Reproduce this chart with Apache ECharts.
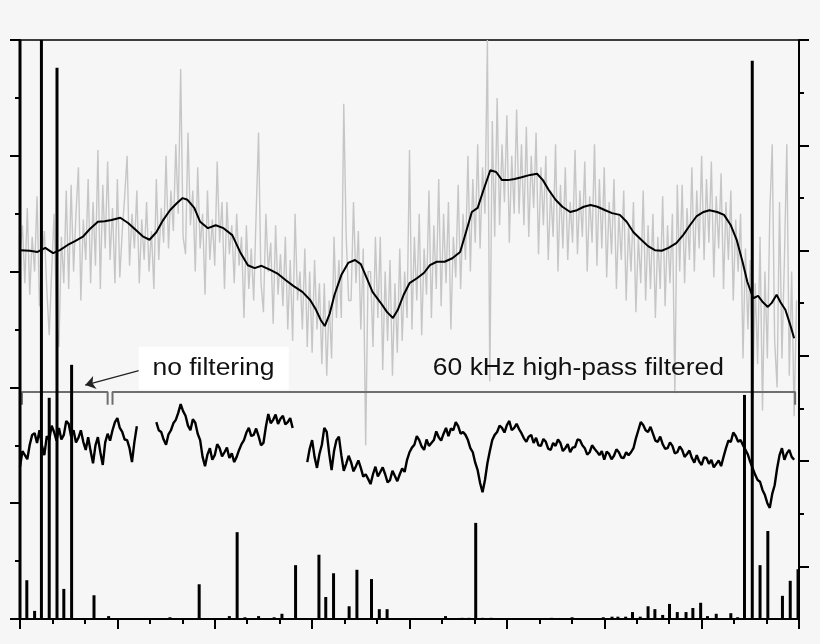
<!DOCTYPE html>
<html><head><meta charset="utf-8">
<script src="https://cdn.jsdelivr.net/npm/echarts@6/dist/echarts.min.js"></script>
<style>html,body{margin:0;padding:0;background:#f6f6f6}#c{width:820px;height:644px}</style>
</head><body><div id="c"></div>
<script>
// ---- data (arbitrary units: x 0..80, left y 0..100) ----
const grayStep = 0.25;
const grayTrace = [
63,68,58,71, 56,66,60,73, 54,62,67,57, 49,60,70,52, 47,66,58,74,
57,75,60,70, 78,55,69,62, 76,58,72,61, 81,57,75,64, 79,62,71,58,
76,59,67,73, 80,61,70,64, 74,58,69,62, 72,60,67,57, 76,62,71,65,
80,64,74,67, 82,70,95,66, 63,84,68,74, 60,78,64,70, 56,74,62,69,
61,79,65,72, 57,72,63,68, 58,70,61,66, 52,68,57,64, 55,70,84,58,
53,70,60,65, 51,68,56,63, 54,66,50,62, 48,70,55,60, 50,64,47,60,
46,62,50,58, 44,58,42,55, 45,66,52,62, 52,89,66,55, 55,72,58,67,
50,64,30,60, 60,47,66,52, 66,43,60,48, 62,42,58,46, 64,48,60,52,
81,50,66,55, 70,49,64,56, 74,52,68,57, 76,54,70,58, 72,50,66,59,
75,57,70,62, 80,60,76,65, 82,64,78,70, 100,41,86,66, 90,68,82,72,
87,65,80,70, 88,70,82,68, 85,66,80,71, 84,63,78,68, 80,62,74,66,
82,60,75,64, 78,62,72,65, 81,63,74,66, 79,60,73,65, 82,61,76,64,
78,59,72,63, 76,57,70,62, 74,55,68,60, 72,53,66,58, 74,55,68,57,
70,52,66,57, 73,54,68,58, 70,39,75,60, 75,58,71,62, 78,60,74,64,
80,62,76,65, 79,59,73,64, 77,57,72,62, 74,55,69,60, 70,45,64,50,
62,38,58,44, 66,36,60,45, 70,82,48,40, 72,45,62,82, 42,60,35,55];

const smoothTrace = [
[0,63.7],[1.0,63.6],[1.8,63.4],[2.6,64.1],[3.4,63.2],[4.1,63.7],[4.9,64.6],[5.7,65.3],[6.5,66.1],[7.2,67.4],
[8.0,68.6],[8.7,68.7],[9.4,68.9],[10.3,69.3],[11.1,68.4],[11.9,67.2],[12.6,66.1],[13.3,65.5],[14.0,66.8],[14.7,68.9],
[15.4,70.6],[16.1,71.8],[16.7,72.7],[17.2,72.4],[17.9,71.0],[18.5,68.6],[19.3,67.5],[20.1,68.0],[20.9,67.5],[21.8,66.3],
[22.6,63.4],[23.4,61.1],[24.1,60.6],[24.8,61.0],[25.7,60.3],[26.5,59.6],[27.3,58.5],[28.1,57.5],[29.0,56.5],[29.8,55.1],
[30.4,53.4],[30.9,51.6],[31.3,50.6],[31.8,52.7],[32.3,56.0],[33.0,59.4],[33.7,61.5],[34.4,62.0],[35.0,61.3],[35.6,58.9],
[36.2,56.5],[37.0,54.7],[37.7,53.0],[38.3,52.0],[38.8,53.4],[39.4,56.0],[40.0,58.0],[40.8,58.9],[41.5,59.8],[42.1,61.1],
[42.8,61.7],[43.6,61.7],[44.4,62.3],[45.2,63.4],[45.8,66.8],[46.4,70.3],[47.0,71.0],[47.6,74.1],[48.3,77.5],[48.9,77.2],
[49.5,75.8],[50.1,75.8],[50.8,76.0],[51.5,76.3],[52.4,76.7],[53.1,76.9],[53.7,75.8],[54.3,74.1],[55.0,72.4],[55.7,71.2],
[56.5,70.3],[57.2,70.6],[57.9,71.2],[58.6,71.5],[59.3,71.2],[60.1,70.6],[60.8,70.1],[61.6,69.8],[62.3,68.6],[63.0,66.8],
[63.8,65.5],[64.5,64.4],[65.2,63.7],[65.9,63.6],[66.6,64.1],[67.4,64.9],[68.1,66.3],[68.8,68.0],[69.5,69.6],[70.2,70.3],
[70.8,70.6],[71.6,70.3],[72.3,69.8],[73.0,68.0],[73.6,65.5],[74.2,61.7],[74.7,58.2],[75.3,55.4],[75.8,55.8],[76.3,54.7],
[76.8,53.9],[77.2,54.6],[77.7,56.0],[78.1,54.7],[78.6,53.4],[79.1,50.8],[79.5,48.5]];

const filteredStep = 0.25;
const filteredTrace = [
26.3,29.0,28.3,27.6,30.1,31.8,32.1,30.4,32.6,30.0,28.3,31.6,30.9,33.4,32.3,30.8,33.0,31.0,31.8,34.2,
33.7,31.5,32.6,30.5,31.3,32.6,30.6,29.2,31.4,29.0,26.9,30.0,31.4,28.8,26.6,30.5,32.0,30.8,32.6,34.0,
34.7,33.0,32.3,31.0,30.9,29.5,27.1,30.6,33.3,
null,null,null,null,null,null,null,
34.0,32.6,32.3,31.0,30.1,31.9,32.6,33.8,34.4,35.6,37.1,35.9,35.1,33.4,32.6,34.5,33.9,32.0,30.9,28.0,
26.4,28.4,29.5,27.5,28.3,30.2,29.5,28.1,28.8,29.6,27.8,28.6,27.1,28.0,29.2,30.2,30.9,32.2,33.0,31.6,
31.8,32.9,31.6,30.0,30.4,33.2,35.4,33.8,34.4,35.3,33.7,34.6,35.1,33.6,34.0,34.7,33.0,
null,null,null,null,null,
27.1,29.4,30.9,28.0,26.1,28.5,30.1,33.0,32.3,28.6,25.7,29.0,30.9,31.5,28.3,25.6,26.8,28.2,27.1,25.5,
26.4,27.4,26.1,24.6,25.0,24.2,23.3,25.0,26.3,24.6,25.4,26.2,25.0,23.6,24.0,25.6,24.7,23.8,25.0,26.0,
25.4,27.5,28.8,29.6,30.1,31.6,30.9,29.8,29.2,31.0,29.9,30.4,30.9,32.4,31.4,30.8,32.0,33.0,31.6,32.9,
32.6,34.0,33.3,32.0,32.3,31.8,30.9,29.5,28.8,27.0,25.7,23.5,21.9,24.0,26.9,29.0,30.9,31.8,32.3,33.4,
33.0,32.2,33.5,34.2,32.6,33.0,33.7,32.8,32.1,31.2,30.6,31.5,31.8,30.4,31.3,30.0,29.9,31.1,30.6,29.4,
29.2,30.4,29.9,31.0,30.4,29.0,29.5,30.2,28.8,29.6,29.7,31.0,30.9,30.0,29.5,28.4,28.8,30.0,29.4,28.9,
28.3,29.0,27.5,28.9,28.5,27.6,28.2,29.3,28.8,27.9,27.8,28.8,28.3,28.8,29.5,31.2,32.6,34.0,33.5,32.6,
32.3,33.2,32.0,30.8,30.6,31.5,30.2,29.4,29.5,30.5,29.9,28.6,28.8,29.8,29.2,28.0,28.5,29.1,27.8,27.0,
28.3,27.2,26.6,27.9,27.8,26.8,27.5,26.2,26.8,27.4,26.4,28.0,29.5,30.8,30.6,32.2,31.6,30.6,30.9,30.0,
29.2,28.4,27.1,26.0,24.9,24.0,23.7,22.3,21.4,20.0,19.2,21.6,23.1,26.0,28.3,29.5,27.5,28.6,29.2,28.0,
27.5];

const spikeBars = [
[0.0,100],[0.7,6.7],[1.5,1.4],[2.2,100],[3.0,38.2],[3.8,95.2],[4.5,5.2],[5.3,43.9],[7.6,4.1],[9.1,0.5],
[15.4,0.3],[18.4,6.0],[21.5,0.5],[22.3,15.0],[23.1,0.3],[24.5,0.5],[26.1,0.3],[26.9,0.9],[28.3,9.3],
[30.7,11.1],[31.4,3.8],[32.2,7.9],[33.8,2.2],[34.6,8.5],[36.1,6.9],[36.9,1.7],[37.7,1.7],
[43.7,0.5],[45.4,0.2],[46.1,0.2],[46.8,16.6],[47.5,0.2],[48.4,0.2],
[54.6,0.2],[56.7,0.3],[59.9,0.3],[60.8,0.4],[61.4,0.4],[62.2,0.4],[62.9,1.2],[63.7,0.4],[64.5,2.2],
[65.2,1.7],[66.0,0.7],[66.7,2.6],[67.5,1.2],[68.4,1.2],[69.1,1.9],[69.9,2.8],[70.6,0.5],[71.5,0.9],
[73.0,1.0],[73.7,0.3],[74.4,38.7],[75.2,96.4],[76.0,9.3],[76.8,15.2],[78.3,4.0],[79.1,6.6],[79.9,8.6]];

const noFilterBracket = [[0.2,37.0],[0.2,39.2],[9.0,39.2],[9.0,37.0]];
const filteredBracket = [[9.5,37.0],[9.5,39.2],[79.6,39.2],[79.6,37.0]];
const arrowFrom = [12.2,42.9];
const arrowTo = [6.7,40.4];
const noFilterLabel = {text:'no filtering', at:[13.6,45.3], boxFrom:[12.2,47.0], boxTo:[27.6,39.6]};
const filteredLabel = {text:'60 kHz high-pass filtered', at:[42.4,45.3]};
const rightMajorTicks = [10,30,50,70,90,110];
const rightMinorTicks = [20,40,60,80,100];

// ---- chart ----
const chart = echarts.init(document.getElementById('c'), null, {renderer:'canvas'});
const blk = {color:'#000', width:2};
const option = {
  backgroundColor:'#f6f6f6',
  animation:false,
  grid:{left:20,right:21,top:40,bottom:25,containLabel:false},
  xAxis:[
    {type:'value',min:0,max:80,interval:10,position:'bottom',
     axisLine:{show:true,onZero:false,lineStyle:blk},
     axisTick:{show:true,length:10,lineStyle:blk},
     minorTick:{show:true,splitNumber:3,length:5,lineStyle:blk},
     axisLabel:{show:false},splitLine:{show:false},minorSplitLine:{show:false}},
    {type:'value',min:0,max:80,position:'top',
     axisLine:{show:true,onZero:false,lineStyle:{color:'#000',width:1.5}},
     axisTick:{show:false},axisLabel:{show:false},splitLine:{show:false}}
  ],
  yAxis:[
    {type:'value',min:0,max:100,interval:20,position:'left',
     axisLine:{show:true,onZero:false,lineStyle:blk},
     axisTick:{show:true,length:10,lineStyle:blk},
     minorTick:{show:true,splitNumber:2,length:5,lineStyle:blk},
     axisLabel:{show:false},splitLine:{show:false}},
    {type:'value',min:0,max:110,position:'right',
     axisLine:{show:true,onZero:false,lineStyle:blk},
     axisTick:{show:true,length:10,customValues:rightMajorTicks,lineStyle:blk},
     axisLabel:{show:false},splitLine:{show:false}},
    {type:'value',min:0,max:110,position:'right',
     axisLine:{show:false,onZero:false},
     axisTick:{show:true,length:5,customValues:rightMinorTicks,lineStyle:blk},
     axisLabel:{show:false},splitLine:{show:false}}
  ],
  series:[
    {type:'line',name:'raw',data:grayTrace.map((v,i)=>[i*grayStep,v]),symbol:'none',
     lineStyle:{color:'#c6c6c6',width:1.4},silent:true,z:1},
    {type:'line',name:'smooth',data:smoothTrace,symbol:'none',
     lineStyle:{color:'#000',width:2},silent:true,z:3},
    {type:'line',name:'filtered',data:filteredTrace.map((v,i)=>[i*filteredStep, v===null?'-':v]),
     symbol:'none',connectNulls:false,lineStyle:{color:'#000',width:2.4},silent:true,z:3},
    {type:'line',name:'b1',data:noFilterBracket,symbol:'none',lineStyle:{color:'#6e6e6e',width:2},silent:true,z:2},
    {type:'line',name:'b2',data:filteredBracket,symbol:'none',lineStyle:{color:'#6e6e6e',width:2},silent:true,z:2,
     markLine:{silent:true,symbol:['none','arrow'],symbolSize:10,label:{show:false},
       lineStyle:{color:'#222',width:1.2,type:'solid'},
       data:[[{coord:arrowFrom},{coord:arrowTo}]]}},
    {type:'bar',name:'spikes',data:spikeBars,barWidth:3,itemStyle:{color:'#000'},silent:true,z:4}
  ]
};
chart.setOption(option);

function px(c){ return chart.convertToPixel({xAxisIndex:0,yAxisIndex:0}, c); }
const b0 = px(noFilterLabel.boxFrom), b1 = px(noFilterLabel.boxTo);
const t1 = px(noFilterLabel.at), t2 = px(filteredLabel.at);
const font = '23px "Liberation Sans", Arial, sans-serif';
chart.setOption({graphic:[
  {type:'rect',z:100,shape:{x:b0[0],y:b0[1],width:b1[0]-b0[0],height:b1[1]-b0[1]},style:{fill:'#ffffff'}},
  {type:'text',z:101,x:t1[0],y:t1[1],scaleX:1.15,style:{text:noFilterLabel.text,font:font,fill:'#111',verticalAlign:'top'}},
  {type:'text',z:101,x:t2[0],y:t2[1],scaleX:1.15,style:{text:filteredLabel.text,font:font,fill:'#111',verticalAlign:'top'}}
]});
</script>
</body></html>
